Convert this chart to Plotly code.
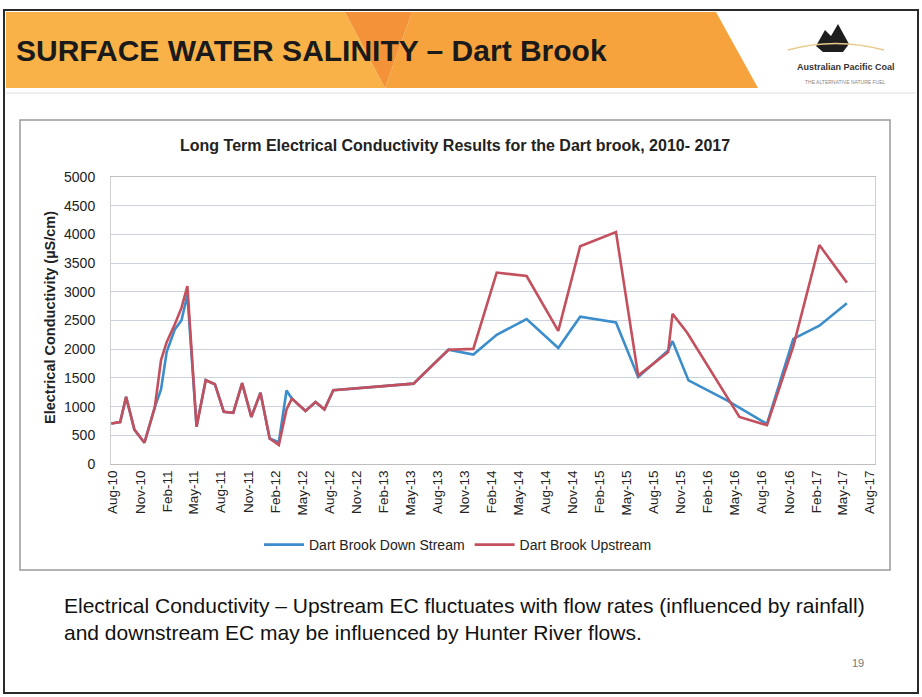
import plotly.graph_objects as go

# ---------------- data ----------------
up_dates = ["2010-07-26", "2010-08-25", "2010-09-14", "2010-10-12", "2010-11-15", "2010-12-20",
            "2011-01-10", "2011-01-29", "2011-02-26", "2011-03-20", "2011-04-09", "2011-05-10",
            "2011-06-10", "2011-07-11", "2011-08-10", "2011-09-11", "2011-10-11", "2011-11-11",
            "2011-12-12", "2012-01-12", "2012-02-12", "2012-03-09", "2012-03-27", "2012-05-12",
            "2012-06-15", "2012-07-15", "2012-08-14", "2013-05-12", "2013-09-07", "2013-11-30",
            "2014-02-17", "2014-05-29", "2014-09-13", "2014-11-26", "2015-03-27", "2015-06-10",
            "2015-09-19", "2015-10-04", "2015-11-22", "2016-05-17", "2016-08-18", "2016-11-15",
            "2017-02-11", "2017-05-15"]
up_values = [705, 730, 1170, 600, 370, 990,
             1810, 2120, 2440, 2720, 3100, 650,
             1460, 1390, 910, 890, 1410, 820,
             1240, 445, 330, 950, 1140, 925,
             1080, 950, 1285, 1400, 1990, 2005,
             3335, 3275, 2320, 3795, 4040, 1540,
             1950, 2615, 2290, 820, 676, 2050,
             3815, 3160]

down_dates = ["2010-07-26", "2010-08-25", "2010-09-14", "2010-10-12", "2010-11-15", "2010-12-20",
              "2011-01-10", "2011-01-29", "2011-02-26", "2011-03-20", "2011-04-09", "2011-05-10",
              "2011-06-10", "2011-07-11", "2011-08-10", "2011-09-11", "2011-10-11", "2011-11-11",
              "2011-12-12", "2012-01-12", "2012-02-12", "2012-03-09", "2012-03-27", "2012-05-12",
              "2012-06-15", "2012-07-15", "2012-08-14", "2013-05-12", "2013-09-07", "2013-11-30",
              "2014-02-17", "2014-05-29", "2014-09-13", "2014-11-26", "2015-03-27", "2015-06-10",
              "2015-09-19", "2015-10-04", "2015-11-27", "2016-04-05", "2016-07-27", "2016-08-18",
              "2016-11-15", "2017-02-11", "2017-05-15"]
down_values = [705, 730, 1170, 600, 370, 990,
               1300, 1950, 2350, 2500, 2950, 650,
               1460, 1390, 910, 890, 1410, 820,
               1240, 445, 380, 1280, 1140, 925,
               1080, 950, 1285, 1400, 1990, 1906,
               2250, 2525, 2022, 2565, 2466, 1513,
               1976, 2140, 1456, 1109, 763, 700,
               2180, 2410, 2800]

tick_dates = ["2010-08-01", "2010-11-01", "2011-02-01", "2011-05-01", "2011-08-01", "2011-11-01",
              "2012-02-01", "2012-05-01", "2012-08-01", "2012-11-01", "2013-02-01", "2013-05-01",
              "2013-08-01", "2013-11-01", "2014-02-01", "2014-05-01", "2014-08-01", "2014-11-01",
              "2015-02-01", "2015-05-01", "2015-08-01", "2015-11-01", "2016-02-01", "2016-05-01",
              "2016-08-01", "2016-11-01", "2017-02-01", "2017-05-01", "2017-08-01"]
tick_labels = ["Aug-10", "Nov-10", "Feb-11", "May-11", "Aug-11", "Nov-11",
               "Feb-12", "May-12", "Aug-12", "Nov-12", "Feb-13", "May-13",
               "Aug-13", "Nov-13", "Feb-14", "May-14", "Aug-14", "Nov-14",
               "Feb-15", "May-15", "Aug-15", "Nov-15", "Feb-16", "May-16",
               "Aug-16", "Nov-16", "Feb-17", "May-17", "Aug-17"]

series_names = ["Dart Brook Down Stream", "Dart Brook Upstream"]
slide_title = "SURFACE WATER SALINITY \u2013 Dart Brook"
chart_title = "Long Term Electrical Conductivity Results for the Dart brook, 2010- 2017"
y_title = "Electrical Conductivity (\u00b5S/cm)"
caption_lines = ["Electrical Conductivity \u2013 Upstream EC fluctuates with flow rates (influenced by rainfall)",
                 "and downstream EC may be influenced by Hunter River flows."]
page_no = "19"

# ---------------- layout geometry (pixels) ----------------
W, H = 922, 697
L, R, T, B = 111, 875, 177, 464
FONT = "Liberation Sans, Arial, sans-serif"


def px(x):
    return (x - L) / (R - L)


def py(y):
    return (B - y) / (B - T)


def poly(points):
    return "M " + " L ".join(f"{px(a)},{py(b)}" for a, b in points) + " Z"


fig = go.Figure()
fig.add_trace(go.Scatter(x=down_dates, y=down_values, mode="lines", name=series_names[0],
                         line=dict(color="#3C8DCB", width=2.6)))
fig.add_trace(go.Scatter(x=up_dates, y=up_values, mode="lines", name=series_names[1],
                         line=dict(color="#C4505E", width=2.6)))

shapes = []
# header banner
shapes.append(dict(type="path", xref="paper", yref="paper", layer="below",
                   path=poly([(6, 12), (345, 12), (385, 88), (6, 88)]),
                   fillcolor="#F8B247", line=dict(width=0)))
shapes.append(dict(type="path", xref="paper", yref="paper", layer="below",
                   path=poly([(345, 12), (412, 12), (385, 88)]),
                   fillcolor="#F39238", line=dict(width=0)))
shapes.append(dict(type="path", xref="paper", yref="paper", layer="below",
                   path=poly([(412, 12), (716, 12), (758, 88), (385, 88)]),
                   fillcolor="#F6A33E", line=dict(width=0)))
# separator under header
shapes.append(dict(type="line", xref="paper", yref="paper",
                   x0=px(6), x1=px(916), y0=py(93), y1=py(93),
                   line=dict(color="#DDDDDD", width=1)))
# slide border
shapes.append(dict(type="rect", xref="paper", yref="paper",
                   x0=px(4), x1=px(918), y0=py(10), y1=py(693),
                   line=dict(color="#2A2A2A", width=2)))
# chart box
shapes.append(dict(type="rect", xref="paper", yref="paper", layer="below",
                   x0=px(20), x1=px(890), y0=py(120), y1=py(570),
                   line=dict(color="#9A9A9A", width=1.5)))
# logo mountain
shapes.append(dict(type="path", xref="paper", yref="paper",
                   path=poly([(816, 46), (825, 30), (831, 36), (838, 24), (849, 44), (843, 52), (823, 52)]),
                   fillcolor="#1E1E1E", line=dict(width=0)))
shapes.append(dict(type="path", xref="paper", yref="paper",
                   path="M {} {} Q {} {} {} {}".format(px(788), py(50), px(835), py(37), px(884), py(50)),
                   line=dict(color="#E8C98A", width=1.5)))

annotations = []
annotations.append(dict(text=f"<b>{slide_title}</b>", x=px(14), y=py(50), xref="paper", yref="paper",
                        xanchor="left", yanchor="middle", showarrow=False,
                        font=dict(size=30, color="#1A1A1A", family=FONT)))
annotations.append(dict(text="<b>Australian Pacific Coal</b>", x=px(846), y=py(67), xref="paper",
                        yref="paper", xanchor="center", yanchor="middle", showarrow=False,
                        font=dict(size=9, color="#333333", family=FONT)))
annotations.append(dict(text="THE ALTERNATIVE NATURE FUEL", x=px(845), y=py(82), xref="paper",
                        yref="paper", xanchor="center", yanchor="middle", showarrow=False,
                        font=dict(size=5, color="#888888", family=FONT)))
annotations.append(dict(text=f"<b>{chart_title}</b>", x=px(455), y=py(145), xref="paper", yref="paper",
                        xanchor="center", yanchor="middle", showarrow=False,
                        font=dict(size=16, color="#222222", family=FONT)))
annotations.append(dict(text=f"<b>{y_title}</b>", x=px(50), y=py(318), xref="paper", yref="paper",
                        xanchor="center", yanchor="middle", textangle=-90, showarrow=False,
                        font=dict(size=14.5, color="#222222", family=FONT)))
annotations.append(dict(text=caption_lines[0], x=px(62), y=py(605), xref="paper", yref="paper",
                        xanchor="left", yanchor="middle", showarrow=False,
                        font=dict(size=21, color="#111111", family=FONT)))
annotations.append(dict(text=caption_lines[1], x=px(62), y=py(632), xref="paper", yref="paper",
                        xanchor="left", yanchor="middle", showarrow=False,
                        font=dict(size=21, color="#111111", family=FONT)))
annotations.append(dict(text=page_no, x=px(858), y=py(663), xref="paper", yref="paper",
                        xanchor="center", yanchor="middle", showarrow=False,
                        font=dict(size=11, color="#777777", family=FONT)))

fig.update_layout(
    width=W, height=H,
    margin=dict(l=L, r=W - R, t=T, b=H - B, pad=0),
    paper_bgcolor="white", plot_bgcolor="white",
    font=dict(family=FONT, color="#222222"),
    showlegend=True,
    legend=dict(orientation="h", x=px(458), xanchor="center", y=py(545), yanchor="middle",
                font=dict(size=14, color="#222222"), bgcolor="rgba(0,0,0,0)",
                itemwidth=40, traceorder="normal"),
    shapes=shapes,
    annotations=annotations,
    xaxis=dict(type="date", range=["2010-07-25", "2017-08-18"],
               tickvals=tick_dates, ticktext=tick_labels, tickangle=-90,
               tickfont=dict(size=13.5, color="#222222"),
               showgrid=False, showline=True, linecolor="#BFBFBF", linewidth=1,
               mirror=True, ticks="", zeroline=False),
    yaxis=dict(range=[0, 5000], dtick=500, tickfont=dict(size=14, color="#222222"),
               showgrid=True, gridcolor="#CDD3DD", gridwidth=1,
               showline=True, linecolor="#D0D0D0", linewidth=1, mirror=True,
               ticks="", zeroline=False, ticklabelstandoff=12),
)

fig.write_html("out.html", config={"displayModeBar": False},
               post_script="document.body.style.margin='0';")
